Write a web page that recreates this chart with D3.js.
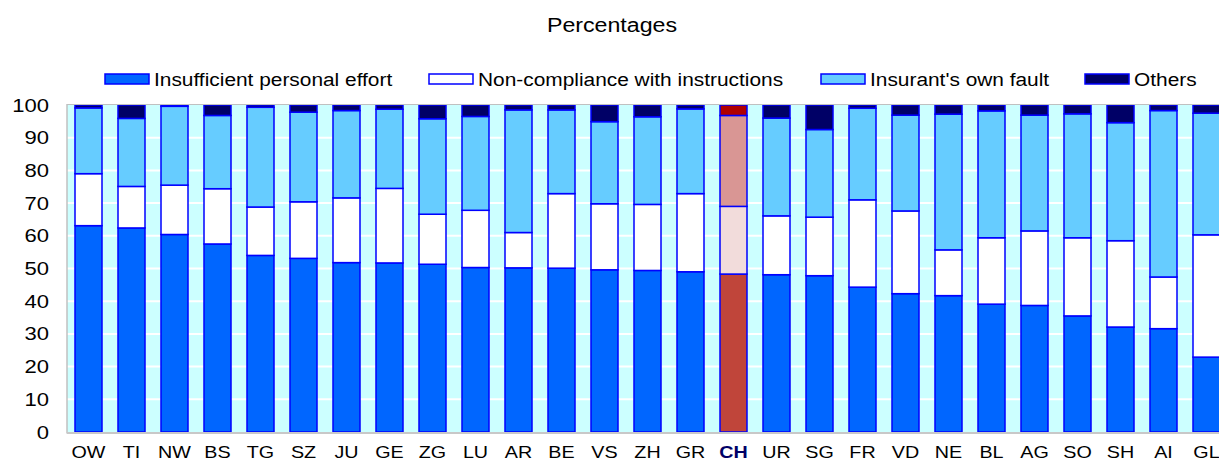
<!DOCTYPE html>
<html><head><meta charset="utf-8">
<script src="https://cdn.jsdelivr.net/npm/d3@7"></script>
<style>body{margin:0;background:#fff;} text{font-family:"Liberation Sans",Arial,sans-serif;}</style>
</head><body>
<svg id="c" width="1219" height="461"></svg>
<script>
const categories = ["OW","TI","NW","BS","TG","SZ","JU","GE","ZG","LU","AR","BE","VS","ZH","GR","CH","UR","SG","FR","VD","NE","BL","AG","SO","SH","AI","GL"];
const seriesNames = ["Insufficient personal effort","Non-compliance with instructions","Insurant's own fault","Others"];
const effort =      [63.1,62.4,60.4,57.5,54.0,53.1,51.8,51.7,51.3,50.3,50.2,50.1,49.6,49.4,49.0,48.3,48.1,47.8,44.3,42.3,41.7,39.1,38.7,35.5,32.1,31.6,22.9];
const noncompliance=[15.9,12.7,15.1,16.9,14.8,17.3,19.8,22.8,15.3,17.5,10.8,22.8,20.2,20.2,23.9,20.7,18.0,17.9,26.7,25.3,14.0,20.3,22.8,23.9,26.4,15.8,37.4];
const ownFault =    [20.1,20.8,24.1,22.4,30.5,27.4,26.7,24.2,29.2,28.7,37.5,25.6,25.1,26.8,25.9,27.8,29.9,26.8,28.0,29.3,41.5,38.8,35.4,37.9,36.1,50.9,37.2];
const others =      [0.9,4.1,0.4,3.2,0.7,2.2,1.7,1.3,4.2,3.5,1.5,1.5,5.1,3.6,1.2,3.2,4.0,7.5,1.0,3.1,2.8,1.8,3.1,2.7,5.4,1.7,2.5];
const yTicks = [0,10,20,30,40,50,60,70,80,90,100];
const highlight = "CH";

const colors = ["#0066FF","#FFFFFF","#66CCFF","#000066"];
const hlColors = ["#C0453A","#F2DCDB","#D99694","#B00000"];
const SX = 1.16; // horizontal text stretch seen in the reference

const svg = d3.select("#c");
const plotLeft = 67, plotTop = 105, plotBottom = 432, step = 43;
const x = d3.scaleBand().domain(categories)
  .range([plotLeft, plotLeft + categories.length*step])
  .paddingInner(16/43).paddingOuter(8/43);
const y = d3.scaleLinear().domain([0,100]).range([plotBottom, plotTop]);

svg.append("rect").attr("x",plotLeft).attr("y",y(100)).attr("width",x.range()[1]-plotLeft)
  .attr("height",y(0)-y(100)).attr("fill","#CCFFFF");
svg.append("g").selectAll("line").data(yTicks.filter(t=>t>0&&t<100)).join("line")
  .attr("x1",plotLeft).attr("x2",x.range()[1]).attr("y1",d=>y(d)).attr("y2",d=>y(d))
  .attr("stroke","#FFFFFF").attr("stroke-width",2);

const rows = categories.map((c,i)=>({cat:c, s0:effort[i], s1:noncompliance[i], s2:ownFault[i], s3:others[i]}));
const layers = d3.stack().keys(["s0","s1","s2","s3"])(rows);
layers.forEach((layer,li)=>{
  svg.append("g").selectAll("rect").data(layer).join("rect")
    .attr("x",d=>x(d.data.cat)).attr("width",x.bandwidth())
    .attr("y",d=>y(Math.min(d[1],100))).attr("height",d=>y(d[0])-y(Math.min(d[1],100)))
    .attr("fill",d=>d.data.cat===highlight?hlColors[li]:colors[li])
    .attr("stroke","#0000FF").attr("stroke-width",1.5);
});

svg.append("line").attr("x1",plotLeft).attr("x2",1219).attr("y1",y(100)-0.5).attr("y2",y(100)-0.5)
  .attr("stroke","#C0C0C0").attr("stroke-width",1);
svg.append("line").attr("x1",plotLeft).attr("x2",plotLeft).attr("y1",y(100)-1).attr("y2",y(0)+1.5)
  .attr("stroke","#C0C0C0").attr("stroke-width",1.5);
svg.append("line").attr("x1",plotLeft).attr("x2",1219).attr("y1",y(0)+1).attr("y2",y(0)+1)
  .attr("stroke","#C8C8C8").attr("stroke-width",2);

// y axis labels
const yPad = 18;
const gy = svg.append("g").attr("transform",`translate(${plotLeft},0)`)
  .call(d3.axisLeft(y).tickValues(yTicks).tickSize(0).tickPadding(yPad));
gy.select(".domain").remove();
gy.selectAll("text").attr("font-size","19px").attr("fill","#000")
  .attr("font-family","Liberation Sans, Arial, sans-serif")
  .attr("transform",`translate(${-yPad},0) scale(${SX},1) translate(${yPad},0)`);

// x axis labels
const gx = svg.append("g").attr("transform",`translate(0,${plotBottom})`)
  .call(d3.axisBottom(x).tickSize(0).tickPadding(14));
gx.select(".domain").remove();
gx.selectAll("text").attr("font-size","17px").attr("fill",d=>d===highlight?"#000066":"#000")
  .attr("font-weight",d=>d===highlight?"bold":"normal")
  .attr("font-family","Liberation Sans, Arial, sans-serif")
  .attr("transform",`scale(${SX},1)`);

// title
svg.append("text").attr("transform",`translate(612,32) scale(${SX},1)`).attr("text-anchor","middle")
  .attr("font-size","20px").text("Percentages");

// legend
const legendX = [105,429,821,1085];
const lg = svg.append("g");
seriesNames.forEach((n,i)=>{
  lg.append("rect").attr("x",legendX[i]).attr("y",74).attr("width",44).attr("height",10)
    .attr("fill",colors[i]).attr("stroke","#0000FF").attr("stroke-width",1.5);
  lg.append("text").attr("transform",`translate(${legendX[i]+49},86) scale(${SX},1)`)
    .attr("font-size","18px").text(n);
});
</script>
</body></html>
